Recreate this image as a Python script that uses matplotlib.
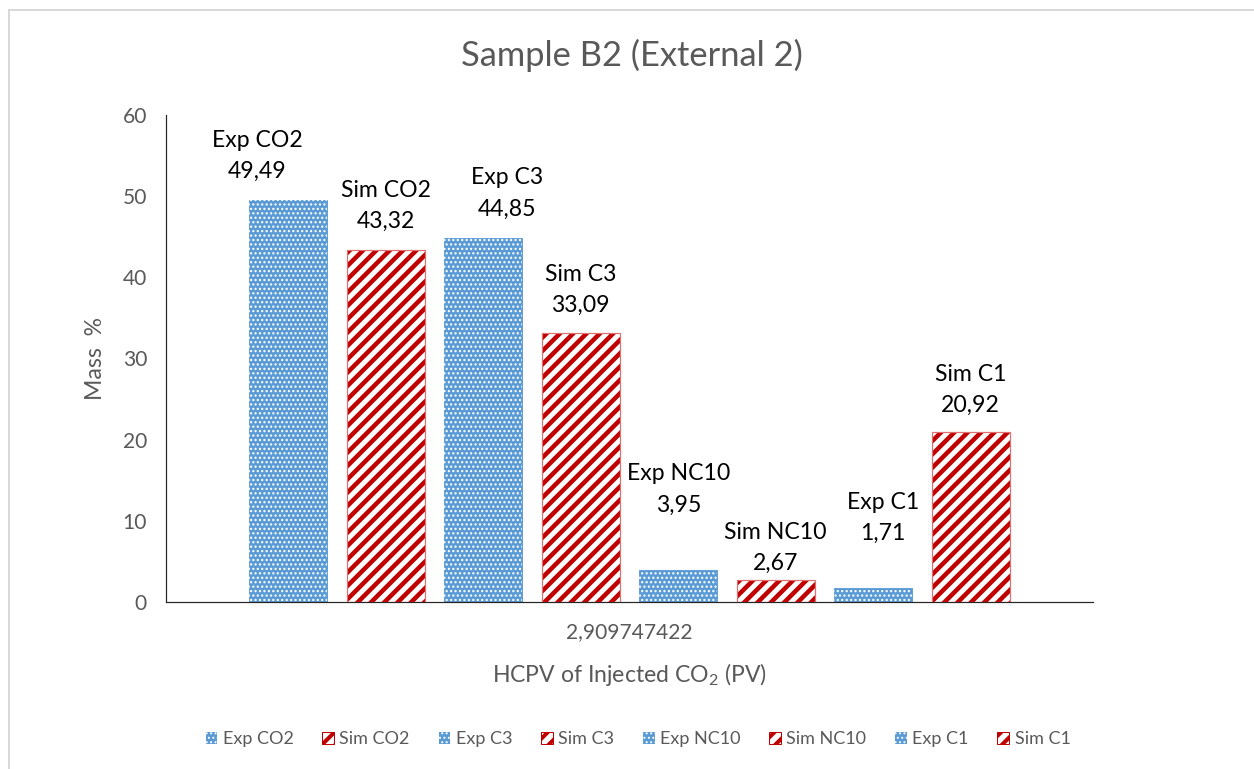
import matplotlib
matplotlib.use("Agg")
import matplotlib.pyplot as plt
from matplotlib.patches import Patch
from matplotlib.lines import Line2D

# Chart data
series_names = ["Exp CO2", "Sim CO2", "Exp C3", "Sim C3",
                "Exp NC10", "Sim NC10", "Exp C1", "Sim C1"]
series_values = [49.49, 43.32, 44.85, 33.09, 3.95, 2.67, 1.71, 20.92]
category_label = "2,909747422"
y_ticks = [0, 10, 20, 30, 40, 50, 60]

# Label placement relative to each bar top (pixels), nudged where labels would collide
label_dx_px = [-31, 0, 24, 0, 0, 0, 10, 0]
label_gap_px = [29, 29, 29, 28, 65, 17, 55, 27]

DPI = 80
W, H = 1254, 769


def pt(px):
    return px * 72 / DPI


plt.rcParams['font.family'] = ['Lato', 'DejaVu Sans']
plt.rcParams['mathtext.fontset'] = 'custom'
plt.rcParams['mathtext.rm'] = 'Lato'

BLUE = "#5B9BD5"
RED = "#C00000"
RED_EDGE = "#E07070"
GREY_TXT = "#595959"

fig = plt.figure(figsize=(W / DPI, H / DPI), dpi=DPI)
ax = fig.add_axes([166 / W, (H - 602) / H, (1093 - 166) / W, (602 - 115) / H])

pitch = 97.5 / 927
width = 78 / 927


def set_hlw(patches, lw):
    for p in patches:
        if hasattr(p, "set_hatch_linewidth"):
            p.set_hatch_linewidth(lw)


for i, (name, val) in enumerate(zip(series_names, series_values)):
    x = (i - 3.5) * pitch
    if name.startswith("Exp"):
        ax.bar(x, val, width, color=BLUE, edgecolor=BLUE, linewidth=0.8, zorder=2)
        h = ax.bar(x, val, width, color="none", edgecolor="white",
                   hatch="...", linewidth=0, zorder=3)
        set_hlw(h.patches, pt(1.4))
    else:
        ax.bar(x, val, width, color="white", linewidth=0, zorder=2)
        h = ax.bar(x, val, width, color="none", edgecolor=RED,
                   hatch="//", linewidth=0, zorder=3)
        set_hlw(h.patches, pt(4.5))
        ax.bar(x, val, width, color="none", edgecolor=RED_EDGE,
               linewidth=pt(1.2), zorder=4)
    value_txt = f"{val:.2f}".replace(".", ",")
    gap = label_gap_px[i]
    dx = label_dx_px[i]
    ax.annotate(value_txt, (x, val), xytext=(pt(dx), pt(gap)), textcoords="offset points",
                ha="center", va="center", fontsize=pt(23), color="black")
    ax.annotate(name, (x, val), xytext=(pt(dx), pt(gap + 31)), textcoords="offset points",
                ha="center", va="center", fontsize=pt(23), color="black")

ax.set_xlim(-0.5, 0.5)
ax.set_ylim(0, 60)
ax.set_yticks(y_ticks)
ax.set_xticks([0])
ax.set_xticklabels([category_label])
ax.tick_params(axis="both", length=0, labelsize=pt(21), labelcolor=GREY_TXT)
ax.tick_params(axis="y", pad=pt(19))
ax.tick_params(axis="x", pad=pt(20))
for side in ("top", "right"):
    ax.spines[side].set_visible(False)
for side in ("left", "bottom"):
    ax.spines[side].set_color("#262626")
    ax.spines[side].set_linewidth(pt(1.2))

fig.text(632 / W, 1 - 55 / H, "Sample B2 (External 2)", ha="center", va="center",
         fontsize=pt(34.5), color=GREY_TXT)
fig.text(629 / W, 1 - 674 / H, r"HCPV of Injected CO$_\mathregular{2}$ (PV)",
         ha="center", va="center", fontsize=pt(23), color=GREY_TXT)
fig.text(95 / W, 1 - 358 / H, "Mass  %", ha="center", va="center", rotation=90,
         fontsize=pt(23), color=GREY_TXT)

handles = []
for name in series_names:
    if name.startswith("Exp"):
        hp = Patch(facecolor=BLUE, edgecolor="white", hatch="...", linewidth=0)
    else:
        hp = Patch(facecolor="white", edgecolor=RED, hatch="//", linewidth=0)
    handles.append(hp)

leg = fig.legend(handles, series_names, loc="center", ncol=8,
                 bbox_to_anchor=(638 / W, 1 - 739 / H), frameon=False,
                 fontsize=pt(18), handlelength=0.65, handleheight=0.65,
                 handletextpad=0.3, columnspacing=1.6)
for t in leg.get_texts():
    t.set_color(GREY_TXT)
leg_patches = getattr(leg, "legend_handles", None) or getattr(leg, "legendHandles", [])
for name, lp in zip(series_names, leg_patches):
    if name.startswith("Exp"):
        set_hlw([lp], pt(1.2))
    else:
        set_hlw([lp], pt(4))
        lp.set_edgecolor(RED)
        lp.set_linewidth(pt(1))

# Outer chart border (top and left edges visible)
fig.add_artist(Line2D([9 / W, 9 / W], [0, 1 - 9.5 / H], transform=fig.transFigure,
                      color="#D9D9D9", linewidth=pt(2)))
fig.add_artist(Line2D([9 / W, 1], [1 - 9.5 / H, 1 - 9.5 / H], transform=fig.transFigure,
                      color="#D9D9D9", linewidth=pt(2)))

fig.savefig("out.png", dpi=DPI, facecolor="white")
